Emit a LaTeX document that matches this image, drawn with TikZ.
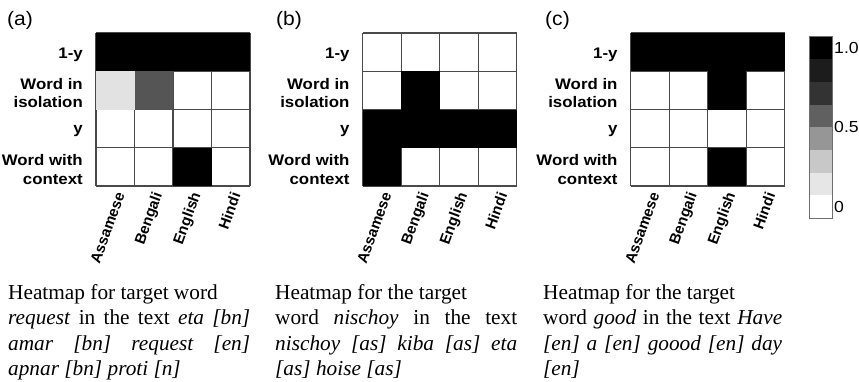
\documentclass[tikz,border=0pt]{standalone}
\usepackage{fontspec}
\setmainfont{Liberation Serif}
\newfontfamily\hvfont{Liberation Sans}
\usetikzlibrary{positioning}

\definecolor{gridgray}{HTML}{4A4A4A}
\definecolor{cellLight}{HTML}{E2E2E2}
\definecolor{cellDark}{HTML}{555555}
% colour bar, top to bottom
\definecolor{cbA}{HTML}{000000}
\definecolor{cbB}{HTML}{1C1C1C}
\definecolor{cbC}{HTML}{333333}
\definecolor{cbD}{HTML}{606060}
\definecolor{cbE}{HTML}{969696}
\definecolor{cbF}{HTML}{C8C8C8}
\definecolor{cbG}{HTML}{E6E6E6}
\definecolor{cbH}{HTML}{FFFFFF}

\begin{document}
\begin{tikzpicture}[x=1pt, y=-1pt,
  gridline/.style={gridgray, line width=1.1pt},
  rowlab/.style={anchor=east, align=right, inner sep=0pt, xscale=1.1,
    font=\hvfont\bfseries\fontsize{15.3}{18.6}\selectfont},
  collab/.style={anchor=east, rotate=70, inner sep=0pt,
    font=\hvfont\bfseries\fontsize{15}{18}\selectfont},
  tag/.style={anchor=west, inner sep=0pt, xscale=1.08,
    font=\hvfont\fontsize{19.5}{22}\selectfont},
  capt/.style={anchor=base west, inner sep=0pt, text width=242pt, align=justify,
    font=\fontsize{21.3}{25.5}\selectfont},
  cbtick/.style={anchor=west, inner sep=0pt, xscale=1.1,
    font=\hvfont\fontsize{16}{18}\selectfont}]
  \useasboundingbox (0,0) rectangle (859,381);

  % panel letters
  \node[tag] (tag-a) at (7,20) {(a)};
  \node[tag] (tag-b) at (276,20) {(b)};
  \node[tag] (tag-c) at (545,20) {(c)};

  % grids, row and column names
  \foreach \pn/\px in {a/96, b/362.7, c/630.7} {
    \begin{scope}[shift={(\px,33)}]
      \foreach \i in {0,...,4} {
        \draw[gridline] (\i*38.5,0) -- (\i*38.5,153);
        \draw[gridline] (0,\i*38.25) -- (154,\i*38.25);
      }
      \foreach \lab [count=\i] in {1-y, {Word in\\isolation}, y, {Word with\\context}}
        \node[rowlab] (\pn-row\i) at (-13, \i*38.25-16.6) {\lab};
      \foreach \lang [count=\i] in {Assamese, Bengali, English, Hindi}
        \node[collab] (\pn-col\i) at (\i*38.5-14.25, 160) {\lang};
    \end{scope}
  }

  % filled cells: column/row/colour
  \begin{scope}[shift={(96,33)}]
    \foreach \c/\r/\f in {0/0/black, 1/0/black, 2/0/black, 3/0/black,
                          0/1/cellLight, 1/1/cellDark, 2/3/black}
      \fill[\f] (\c*38.5,\r*38.25) rectangle ++(38.5,38.25);
  \end{scope}
  \begin{scope}[shift={(362.7,33)}]
    \foreach \c/\r/\f in {1/1/black, 0/2/black, 1/2/black, 2/2/black, 3/2/black,
                          0/3/black}
      \fill[\f] (\c*38.5,\r*38.25) rectangle ++(38.5,38.25);
  \end{scope}
  \begin{scope}[shift={(630.7,33)}]
    \foreach \c/\r/\f in {0/0/black, 1/0/black, 2/0/black, 3/0/black,
                          2/1/black, 2/3/black}
      \fill[\f] (\c*38.5,\r*38.25) rectangle ++(38.5,38.25);
  \end{scope}

  % colour bar
  \foreach \f [count=\i from 0] in {cbA, cbB, cbC, cbD, cbE, cbF, cbG, cbH}
    \fill[\f] (809,36.5+\i*22.69) rectangle ++(23,22.69);
  \draw[gridgray!80, line width=0.8pt] (809,36.5) rectangle (832,218);
  \node[cbtick] (cb-top) at (834,47.8) {1.0};
  \node[cbtick] (cb-mid) at (834,127.3) {0.5};
  \node[cbtick] (cb-low) at (834,207) {0};

  % captions
  \node[capt] (cap-a) at (8,299) {Heatmap for target word\\
    \textit{request} in the text \textit{eta [bn]}\linebreak
    \textit{amar [bn] request [en]}\linebreak
    \textit{apnar [bn] proti [n]}};
  \node[capt] (cap-b) at (275,299) {Heatmap for the target\\
    word \textit{nischoy} in the text\linebreak
    \textit{nischoy [as] kiba [as] eta}\linebreak
    \textit{[as] hoise [as]}};
  \node[capt, text width=239pt] (cap-c) at (543,299) {Heatmap for the target\\
    word \textit{good} in the text \textit{Have}\linebreak
    \textit{[en] a [en] goood [en] day}\linebreak
    \textit{[en]}};
\end{tikzpicture}
\end{document}
